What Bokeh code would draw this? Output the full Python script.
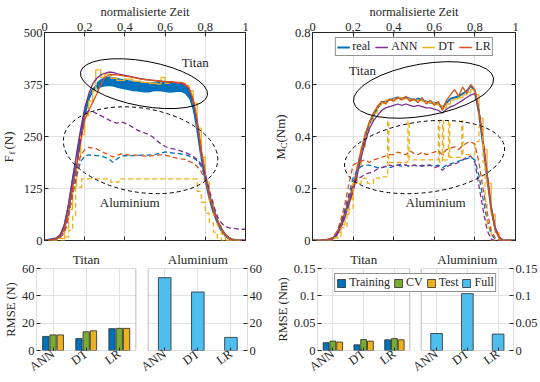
from math import pi
from bokeh.plotting import figure
from bokeh.layouts import column, row
from bokeh.models import (Range1d, FactorRange, LinearAxis, CategoricalAxis, FixedTicker, Label,
                          Legend, LegendItem, ColumnDataSource, BoxAnnotation)
from bokeh.transform import dodge
from bokeh.embed import file_html
from bokeh.resources import INLINE

# ---------------- data ----------------
T = [0.00, 0.02, 0.04, 0.06, 0.08, 0.10, 0.12, 0.14, 0.16, 0.18, 0.20, 0.22, 0.24,
     0.26, 0.28, 0.30, 0.32, 0.34, 0.36, 0.38, 0.40, 0.42, 0.44, 0.46, 0.48, 0.50,
     0.52, 0.54, 0.56, 0.58, 0.60, 0.62, 0.64, 0.66, 0.68, 0.70, 0.72, 0.74, 0.76,
     0.78, 0.80, 0.82, 0.84, 0.86, 0.88, 0.90, 0.92, 0.94, 0.96, 0.98, 1.00]

# Ff (N) - Titan (solid)
F_TI_REAL = [0, 1, 3, 5, 12, 35, 80, 140, 195, 255, 305, 342, 362, 372, 378, 381, 382, 381, 378, 376,
             375, 373, 372, 371, 370, 369, 369, 370, 371, 372, 373, 372, 369, 368, 369, 366, 356, 325,
             270, 205, 150, 105, 70, 45, 25, 12, 5, 1, 0, 0, 0]
# noise envelope of the measured Titan force on the plateau
T_BAND = [0.26, 0.28, 0.30, 0.32, 0.34, 0.36, 0.38, 0.40, 0.42, 0.44, 0.46, 0.48, 0.50, 0.52, 0.54,
          0.56, 0.58, 0.60, 0.62, 0.64, 0.66, 0.68, 0.70, 0.72, 0.74]
F_TI_REAL_HI = [380, 388, 392, 394, 393, 391, 389, 387, 385, 384, 383, 382, 381, 380, 381, 382, 383,
                384, 383, 381, 380, 379, 376, 366, 340]
F_TI_REAL_LO = [362, 368, 370, 371, 370, 367, 365, 363, 361, 359, 358, 357, 356, 356, 358, 359, 358,
                357, 355, 356, 357, 357, 352, 340, 312]
F_TI_ANN = [0, 1, 3, 6, 15, 40, 88, 150, 210, 268, 318, 352, 377, 390, 398, 402, 405, 404, 401, 399,
            397, 395, 393, 391, 389, 387, 386, 385, 384, 383, 382, 381, 380, 379, 378, 374, 362, 335,
            282, 212, 155, 108, 72, 46, 27, 13, 5, 1, 0, 0, 0]
F_TI_LR = [0, 1, 2, 4, 10, 30, 72, 128, 180, 235, 290, 312, 332, 352, 375, 392, 398, 399, 398, 397,
           395, 394, 392, 390, 388, 387, 386, 385, 384, 383, 382, 382, 381, 380, 380, 376, 366, 340,
           290, 220, 160, 112, 76, 50, 30, 15, 6, 2, 0, 0, 0]
F_TI_DT_T = [0, 0.06, 0.10, 0.12, 0.14, 0.16, 0.18, 0.20, 0.22, 0.24, 0.255, 0.28, 0.30, 0.33, 0.36,
             0.40, 0.44, 0.48, 0.52, 0.56, 0.58, 0.60, 0.62, 0.66, 0.70, 0.72, 0.74, 0.76, 0.78, 0.80,
             0.82, 0.84, 0.86, 0.88, 0.90, 1.0]
F_TI_DT = [0, 5, 30, 75, 130, 200, 255, 300, 335, 360, 410, 392, 400, 390, 385, 388, 383, 380, 378,
           376, 392, 378, 380, 378, 372, 360, 330, 270, 200, 140, 95, 60, 35, 15, 0, 0]
# Ff (N) - Aluminium (dashed)
F_AL_REAL = [0, 1, 2, 4, 8, 20, 60, 110, 155, 190, 203, 206, 205, 204, 203, 200, 196, 188, 196, 202,
             204, 203, 204, 204, 205, 205, 205, 206, 208, 210, 213, 212, 210, 210, 208, 206, 203, 199,
             192, 178, 152, 115, 80, 50, 28, 12, 4, 0, 0, 0, 0]
F_AL_ANN = [0, 1, 2, 4, 8, 22, 62, 115, 175, 245, 305, 312, 310, 305, 300, 295, 290, 285, 282, 285,
            282, 278, 272, 266, 262, 258, 255, 248, 240, 232, 226, 222, 220, 218, 215, 212, 207, 202,
            195, 183, 160, 122, 86, 58, 42, 34, 30, 29, 28, 27, 27]
F_AL_LR = [0, 1, 2, 4, 8, 22, 62, 112, 165, 205, 218, 224, 222, 220, 215, 210, 206, 201, 204, 208,
           207, 205, 205, 205, 204, 203, 203, 204, 205, 206, 205, 203, 200, 198, 196, 195, 190, 186,
           178, 165, 143, 110, 76, 48, 27, 12, 4, 0, 0, 0, 0]
F_AL_DT_T = [0, 0.10, 0.12, 0.14, 0.155, 0.185, 0.33, 0.37, 0.76, 0.78, 0.80, 0.82, 0.84, 0.86, 0.88, 1.0]
F_AL_DT = [0, 8, 25, 60, 128, 148, 140, 148, 118, 92, 66, 42, 20, 6, 0, 0]

# Mc (Nm) - Titan (solid)
M_TI_REAL = [0, 0, 0, 0.002, 0.004, 0.008, 0.025, 0.06, 0.10, 0.15, 0.20, 0.27, 0.34, 0.40, 0.45,
             0.48, 0.51, 0.53, 0.535, 0.54, 0.545, 0.55, 0.545, 0.55, 0.545, 0.54, 0.545, 0.54, 0.535,
             0.53, 0.53, 0.525, 0.51, 0.53, 0.545, 0.55, 0.555, 0.565, 0.575, 0.595, 0.575, 0.49,
             0.37, 0.245, 0.125, 0.045, 0.012, 0, 0, 0, 0]
M_TI_ANN = [0, 0, 0, 0.001, 0.003, 0.006, 0.02, 0.05, 0.09, 0.14, 0.19, 0.25, 0.32, 0.38, 0.43, 0.46,
            0.48, 0.50, 0.51, 0.515, 0.52, 0.525, 0.52, 0.525, 0.52, 0.515, 0.52, 0.515, 0.51, 0.51,
            0.505, 0.50, 0.49, 0.505, 0.515, 0.52, 0.53, 0.54, 0.55, 0.56, 0.565, 0.50, 0.39, 0.26,
            0.13, 0.05, 0.012, 0, 0, 0, 0]
M_TI_LR = [0, 0, 0, 0.002, 0.005, 0.01, 0.03, 0.065, 0.11, 0.16, 0.21, 0.28, 0.35, 0.41, 0.455, 0.49,
           0.515, 0.535, 0.525, 0.545, 0.535, 0.55, 0.54, 0.555, 0.535, 0.545, 0.53, 0.55, 0.525, 0.54,
           0.52, 0.535, 0.50, 0.54, 0.56, 0.58, 0.555, 0.59, 0.565, 0.60, 0.58, 0.50, 0.38, 0.25, 0.12,
           0.04, 0.01, 0, 0, 0, 0]
M_TI_DT = [0, 0, 0, 0, 0.005, 0.01, 0.03, 0.06, 0.10, 0.16, 0.22, 0.29, 0.36, 0.42, 0.46, 0.49, 0.52,
           0.53, 0.54, 0.54, 0.545, 0.55, 0.545, 0.545, 0.54, 0.54, 0.54, 0.535, 0.53, 0.53, 0.525, 0.52,
           0.51, 0.525, 0.54, 0.545, 0.55, 0.56, 0.57, 0.58, 0.56, 0.47, 0.35, 0.22, 0.10, 0.03, 0.005,
           0, 0, 0, 0]
# Mc (Nm) - Aluminium (dashed)
M_AL_REAL = [0, 0, 0, 0.002, 0.005, 0.01, 0.03, 0.07, 0.12, 0.18, 0.24, 0.27, 0.285, 0.29, 0.29, 0.285,
             0.28, 0.28, 0.285, 0.28, 0.285, 0.29, 0.285, 0.29, 0.285, 0.29, 0.285, 0.29, 0.285, 0.29,
             0.285, 0.29, 0.28, 0.29, 0.295, 0.30, 0.305, 0.31, 0.315, 0.32, 0.31, 0.25, 0.16, 0.08,
             0.025, 0.005, 0, 0, 0, 0, 0]
M_AL_ANN = [0, 0, 0, 0.002, 0.004, 0.008, 0.025, 0.06, 0.11, 0.17, 0.215, 0.235, 0.245, 0.255, 0.26,
            0.265, 0.275, 0.28, 0.285, 0.29, 0.285, 0.29, 0.295, 0.29, 0.285, 0.29, 0.29, 0.285, 0.29,
            0.29, 0.28, 0.285, 0.27, 0.285, 0.29, 0.295, 0.30, 0.31, 0.32, 0.325, 0.30, 0.21, 0.12,
            0.04, 0.005, 0, 0, 0, 0, 0, 0]
M_AL_LR = [0, 0, 0, 0.002, 0.005, 0.01, 0.035, 0.08, 0.14, 0.22, 0.29, 0.30, 0.305, 0.31, 0.30, 0.31,
           0.315, 0.32, 0.325, 0.33, 0.33, 0.34, 0.335, 0.33, 0.345, 0.335, 0.33, 0.34, 0.33, 0.335,
           0.34, 0.345, 0.33, 0.35, 0.355, 0.36, 0.35, 0.365, 0.375, 0.38, 0.37, 0.30, 0.20, 0.11,
           0.04, 0.01, 0, 0, 0, 0, 0]
M_AL_DT_T = [0, 0.10, 0.14, 0.17, 0.20, 0.24, 0.27, 0.30, 0.33, 0.37, 0.376, 0.47, 0.476, 0.62, 0.626,
             0.64, 0.646, 0.67, 0.676, 0.735, 0.741, 0.80, 0.82, 0.84, 0.85, 0.86, 0.88, 1.0]
M_AL_DT = [0, 0.01, 0.05, 0.12, 0.22, 0.24, 0.22, 0.24, 0.245, 0.46, 0.30, 0.46, 0.31, 0.46, 0.30,
           0.46, 0.31, 0.46, 0.32, 0.46, 0.33, 0.38, 0.44, 0.30, 0.15, 0.05, 0, 0]

# RMSE bars
MATERIALS = ["Titan", "Aluminium"]
MODELS = ["ANN", "DT", "LR"]
F_TRAIN = [10.3, 8.7, 16.0]
F_CV = [11.4, 13.7, 16.2]
F_TEST = [11.4, 14.4, 16.2]
F_FULL = [53.3, 42.8, 9.6]
M_TRAIN = [0.0143, 0.0103, 0.0195]
M_CV = [0.0172, 0.0200, 0.0218]
M_TEST = [0.0155, 0.0172, 0.0195]
M_FULL = [0.031, 0.104, 0.030]

X_TICKS = [0, 0.2, 0.4, 0.6, 0.8, 1.0]
X_TICK_LABELS = ["0", "0,2", "0,4", "0,6", "0,8", "1"]
F_TICKS = [0, 125, 250, 375, 500]
M_TICKS = [0, 0.2, 0.4, 0.6, 0.8]
M_TICK_LABELS = ["0", "0.2", "0.4", "0.6", "0.8"]
RF_TICKS = [0, 20, 40, 60]
RM_TICKS = [0, 0.05, 0.1, 0.15]
RM_TICK_LABELS = ["0", "0.05", "0.1", "0.15"]
SERIES = ["real", "ANN", "DT", "LR"]
SETS = ["Training", "CV", "Test", "Full"]

for s in [F_TI_REAL, F_TI_ANN, F_TI_LR, F_AL_REAL, F_AL_ANN, F_AL_LR,
          M_TI_REAL, M_TI_ANN, M_TI_LR, M_TI_DT, M_AL_REAL, M_AL_ANN, M_AL_LR]:
    assert len(s) == len(T)
assert len(F_TI_REAL_HI) == len(F_TI_REAL_LO) == len(T_BAND)

# ---------------- style ----------------
FONT = "Liberation Serif"
AX = "#262626"
GRID = "#e2e2e2"
BLUE = "#0072BD"
ORANGE = "#D95319"
YELLOW = "#EDB120"
PURPLE = "#7E2F8E"
GREEN = "#77AC30"
LBLUE = "#4DBEEE"
EDGE = "#2a2a2a"
FS = "12.5px"
DASH = "5 3"
GAP = 0.37   # space between the Titan and the Aluminium panel, in category widths


def style_axis(ax):
    ax.axis_line_color = AX
    ax.major_tick_line_color = AX
    ax.minor_tick_line_color = None
    ax.major_tick_in = 4
    ax.major_tick_out = 0
    ax.major_label_text_font = FONT
    ax.major_label_text_font_size = FS
    ax.major_label_text_color = AX
    ax.major_label_standoff = 2
    ax.axis_label_text_font = FONT
    ax.axis_label_text_font_size = FS
    ax.axis_label_text_font_style = "normal"
    ax.axis_label_text_color = AX
    ax.axis_label_standoff = 1


def new_fig(w, h, xr, yr, borders, **kw):
    p = figure(width=w, height=h, x_range=xr, y_range=yr, output_backend="svg",
               toolbar_location=None, **kw)
    p.min_border_left, p.min_border_right, p.min_border_top, p.min_border_bottom = borders
    p.outline_line_color = AX
    p.outline_line_width = 1
    p.grid.grid_line_color = GRID
    for ax in p.axis:
        style_axis(ax)
    return p


def ghost(p, place, ticks):
    """mirrored tick marks (box on) without labels"""
    ax = LinearAxis(ticker=FixedTicker(ticks=ticks))
    style_axis(ax)
    ax.major_label_text_font_size = "0px"
    ax.major_label_text_color = None
    ax.major_label_standoff = 0
    ax.axis_line_color = None
    p.add_layout(ax, place)


def label_strip(width, height, parts, x, y0):
    """narrow blank panel that carries a rotated axis title with a subscript"""
    s = figure(width=width, height=height, x_range=Range1d(0, 1), y_range=Range1d(0, 1),
               x_axis_type=None, y_axis_type=None, output_backend="svg", toolbar_location=None)
    s.min_border_left = s.min_border_right = s.min_border_top = s.min_border_bottom = 0
    s.outline_line_color = None
    y = y0
    for text, size, w, shift in parts:
        s.add_layout(Label(x=x + shift, y=y, x_units="screen", y_units="screen", text=text,
                           angle=pi / 2, text_align="left", text_baseline="middle",
                           text_font=FONT, text_font_size=size, text_color=AX))
        y += w
    return s


def txt(p, x, y, text):
    p.add_layout(Label(x=x, y=y, text=text, text_align="center", text_baseline="middle",
                       text_font=FONT, text_font_size="13px", text_color=AX))


def time_plot(width, borders, yr, yticks, ylabels):
    p = new_fig(width, 248, Range1d(0, 1), yr, borders, x_axis_location="above")
    p.xaxis.ticker = FixedTicker(ticks=X_TICKS)
    p.xaxis.major_label_overrides = dict(zip(X_TICKS, X_TICK_LABELS))
    p.xaxis.axis_label = "normalisierte Zeit"
    p.yaxis.ticker = FixedTicker(ticks=yticks)
    if ylabels:
        p.yaxis.major_label_overrides = dict(zip(yticks, ylabels))
    ghost(p, "below", X_TICKS)
    ghost(p, "right", yticks)
    return p


LEG_STYLE = dict(orientation="horizontal", padding=1, glyph_height=10, label_standoff=3,
                 label_height=10, label_width=5, border_line_color=AX, border_line_width=1,
                 label_text_font=FONT, label_text_font_size="12px", label_text_color=AX,
                 location="top_center", margin=5)

# ---------------- top-left: Ff ----------------
sA = label_strip(20, 248, [("F", "13px", 8, 0), ("f", "9px", 5, 3), ("(N)", "13px", 22, 0)], 8, 78)
pA = time_plot(250, (22, 25, 32, 8), Range1d(0, 500), F_TICKS, None)
pA.varea(x=T_BAND, y1=F_TI_REAL_LO, y2=F_TI_REAL_HI, fill_color=BLUE)
pA.line(T, F_TI_REAL, line_color=BLUE, line_width=2.5)
pA.step(F_TI_DT_T, F_TI_DT, mode="after", line_color=YELLOW, line_width=1.3)
pA.line(T, F_TI_ANN, line_color=PURPLE, line_width=1.3)
pA.line(T, F_TI_LR, line_color=ORANGE, line_width=1.3)
pA.line(T, F_AL_REAL, line_color=BLUE, line_width=1.3, line_dash=DASH)
pA.step(F_AL_DT_T, F_AL_DT, mode="after", line_color=YELLOW, line_width=1.3, line_dash=DASH)
pA.line(T, F_AL_ANN, line_color=PURPLE, line_width=1.3, line_dash=DASH)
pA.line(T, F_AL_LR, line_color=ORANGE, line_width=1.3, line_dash=DASH)
pA.ellipse(x=[0.495], y=[377], width=[129], height=[45], angle=[-0.18],
           width_units="screen", height_units="screen", fill_color=None, line_color="black",
           line_width=1)
pA.ellipse(x=[0.478], y=[217], width=[156], height=[84], angle=[-0.168],
           width_units="screen", height_units="screen", fill_color=None, line_color="black",
           line_width=1, line_dash="4 3")
txt(pA, 0.75, 428, "Titan")
txt(pA, 0.424, 91, "Aluminium")

# ---------------- top-right: Mc ----------------
sB = label_strip(20, 248, [("M", "13px", 11, 0), ("C", "9px", 6, 3), ("(Nm)", "13px", 30, 0)], 10, 81)
pB = time_plot(250, (22, 25, 32, 8), Range1d(0, 0.8), M_TICKS, M_TICK_LABELS)
rB_real = pB.line(T, M_TI_REAL, line_color=BLUE, line_width=2)
rB_dt = pB.step(T, M_TI_DT, mode="after", line_color=YELLOW, line_width=1.3)
rB_ann = pB.line(T, M_TI_ANN, line_color=PURPLE, line_width=1.3)
rB_lr = pB.line(T, M_TI_LR, line_color=ORANGE, line_width=1.3)
pB.line(T, M_AL_REAL, line_color=BLUE, line_width=1.3, line_dash=DASH)
pB.step(M_AL_DT_T, M_AL_DT, mode="after", line_color=YELLOW, line_width=1.3, line_dash=DASH)
pB.line(T, M_AL_ANN, line_color=PURPLE, line_width=1.3, line_dash=DASH)
pB.line(T, M_AL_LR, line_color=ORANGE, line_width=1.3, line_dash=DASH)
pB.ellipse(x=[0.547], y=[0.579], width=[142], height=[52], angle=[0.17],
           width_units="screen", height_units="screen", fill_color=None, line_color="black",
           line_width=1)
pB.ellipse(x=[0.552], y=[0.321], width=[161], height=[71], angle=[0.125],
           width_units="screen", height_units="screen", fill_color=None, line_color="black",
           line_width=1, line_dash="4 3")
txt(pB, 0.246, 0.654, "Titan")
txt(pB, 0.606, 0.146, "Aluminium")
pB.add_layout(Legend(items=[LegendItem(label=n, renderers=[r])
                            for n, r in zip(SERIES, [rB_real, rB_ann, rB_dt, rB_lr])],
                     spacing=5, glyph_width=13, **LEG_STYLE))


# ---------------- bottom: RMSE, Titan and Aluminium panels side by side ----------------
def rmse_fig(borders, yr, yticks, ylabels, ylabel, train, cv, test, full):
    factors = [(m, k) for m in MATERIALS for k in MODELS]
    xr = FactorRange(*factors, group_padding=GAP, factor_padding=0, range_padding=0)
    p = new_fig(270, 134, xr, yr, borders)
    p.outline_line_color = None
    ax_b = p.xaxis[0]
    ax_b.axis_line_color = None
    ax_b.major_tick_in = 3
    ax_b.group_text_font_size = "0px"
    ax_b.group_text_color = None
    ax_b.separator_line_color = None
    ax_b.major_label_orientation = 0.62
    # panel titles: one factor per panel, scaled so that each sits over its panel centre
    p.extra_x_ranges = {"material": FactorRange(*MATERIALS, factor_padding=GAP / 3,
                                                range_padding=0)}
    ax_t = CategoricalAxis(x_range_name="material")
    style_axis(ax_t)
    ax_t.axis_line_color = None
    ax_t.major_tick_line_color = None
    ax_t.major_label_text_font_size = "13px"
    p.add_layout(ax_t, "above")
    p.yaxis.ticker = FixedTicker(ticks=yticks)
    p.yaxis.axis_label = ylabel
    p.yaxis.axis_line_color = None
    ax_r = LinearAxis(ticker=FixedTicker(ticks=yticks))
    style_axis(ax_r)
    ax_r.axis_line_color = None
    p.add_layout(ax_r, "right")
    if ylabels:
        p.yaxis.major_label_overrides = dict(zip(yticks, ylabels))
    # white gap between the two panels, then one box per panel
    p.add_layout(BoxAnnotation(left=3, right=3 + GAP, fill_color="white", fill_alpha=1,
                               line_color=None))
    for lo in (0, 3 + GAP):
        p.add_layout(BoxAnnotation(left=lo, right=lo + 3, fill_alpha=0, line_color=AX,
                                   line_width=1))
    ti = ColumnDataSource(dict(x=[("Titan", k) for k in MODELS], train=train, cv=cv, test=test))
    rs = []
    for key, off, col in [("train", -0.22, BLUE), ("cv", 0.0, GREEN), ("test", 0.22, YELLOW)]:
        rs.append(p.vbar(x=dodge("x", off, range=xr), top=key, width=0.19, source=ti,
                         fill_color=col, line_color=EDGE, line_width=0.8))
    al = ColumnDataSource(dict(x=[("Aluminium", k) for k in MODELS], full=full))
    rs.append(p.vbar(x="x", top="full", width=0.38, source=al, fill_color=LBLUE,
                     line_color=EDGE, line_width=0.8))
    return p, rs


pL, _ = rmse_fig((36, 23, 18, 30), Range1d(0, 60), RF_TICKS, None, "RMSE (N)",
                 F_TRAIN, F_CV, F_TEST, F_FULL)
pR, rR = rmse_fig((47, 23, 18, 30), Range1d(0, 0.15), RM_TICKS, RM_TICK_LABELS, "RMSE (Nm)",
                  M_TRAIN, M_CV, M_TEST, M_FULL)
pR.add_layout(Legend(items=[LegendItem(label=s, renderers=[r]) for s, r in zip(SETS, rR)],
                     spacing=3, glyph_width=10, **LEG_STYLE))

layout = column(row(sA, pA, sB, pB), row(pL, pR))
open("out.html", "w").write(file_html(layout, INLINE))
